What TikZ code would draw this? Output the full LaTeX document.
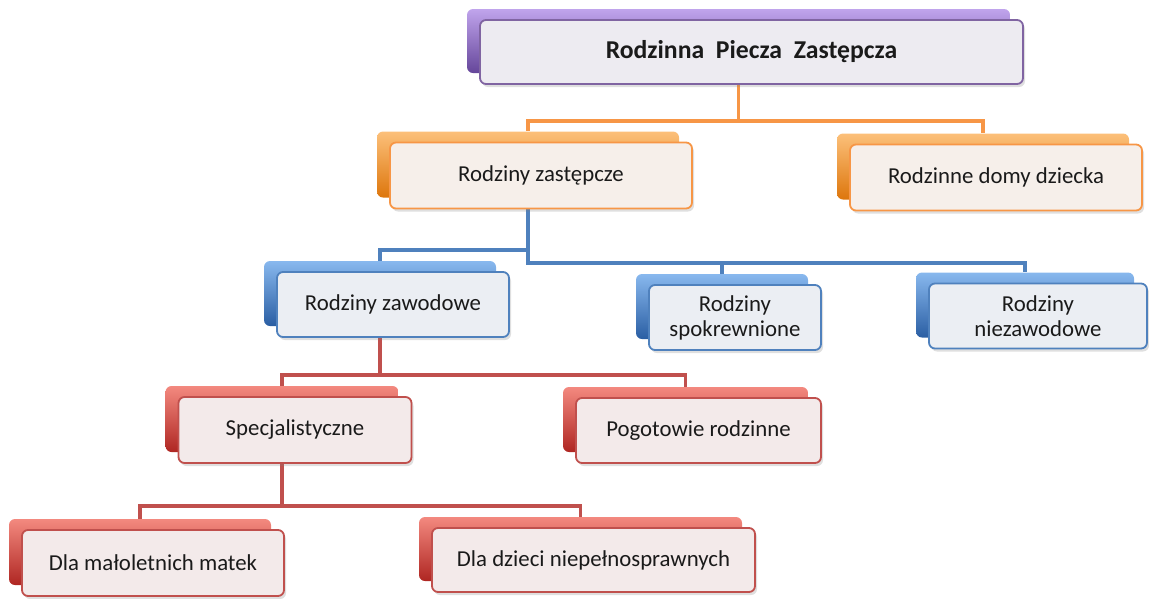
\documentclass[tikz,border=0pt]{standalone}
\usepackage{fontspec}
\setmainfont{Carlito}
\usetikzlibrary{shadows}
\pgfdeclarelayer{bg}
\pgfsetlayers{bg,main}
\definecolor{pLine}{HTML}{8064A2}
\definecolor{pTop}{HTML}{C0A4EC}
\definecolor{pBot}{HTML}{65469A}
\definecolor{pFill}{HTML}{EDEBF1}
\definecolor{oLine}{HTML}{F79646}
\definecolor{oTop}{HTML}{FCC07A}
\definecolor{oBot}{HTML}{DD760C}
\definecolor{oFill}{HTML}{F6EFEA}
\definecolor{bLine}{HTML}{4F81BD}
\definecolor{bTop}{HTML}{88B8EE}
\definecolor{bBot}{HTML}{2A5EA3}
\definecolor{bFill}{HTML}{EBEEF3}
\definecolor{rLine}{HTML}{C0504D}
\definecolor{rTop}{HTML}{F3897F}
\definecolor{rBot}{HTML}{AF2622}
\definecolor{rFill}{HTML}{F3EAEA}
\definecolor{txt}{HTML}{1A1A1A}
\tikzset{
  boxbase/.style={rounded corners=6pt, inner sep=0pt, anchor=center},
  backbox/.style={boxbase},
  frontbox/.style={boxbase, line width=1.8pt, align=center,
    font=\fontsize{22.8}{25}\selectfont, text=txt,
    drop shadow={shadow xshift=2pt, shadow yshift=-3pt, opacity=0.25}},
  backP/.style={backbox, top color=pTop, bottom color=pBot},
  backO/.style={backbox, top color=oTop, bottom color=oBot},
  backB/.style={backbox, top color=bTop, bottom color=bBot},
  backR/.style={backbox, top color=rTop, bottom color=rBot},
  frontP/.style={frontbox, draw=pLine, fill=pFill, font=\fontsize{25.7}{28}\selectfont\bfseries},
  frontO/.style={frontbox, draw=oLine, fill=oFill},
  frontB/.style={frontbox, draw=bLine, fill=bFill},
  frontR/.style={frontbox, draw=rLine, fill=rFill},
  conO/.style={draw=oLine, line width=3.4pt},
  conB/.style={draw=bLine, line width=3.4pt},
  conR/.style={draw=rLine, line width=3.4pt},
}
% #1 name, #2 cx, #3 cy (front centre), #4 width, #5 height, #6 colour letter, #7 text
\newcommand\orgbox[7]{%
  \node[back#6, minimum width=#4pt, minimum height=#5pt] (#1b) at (#2-13,#3-11) {};
  \node[front#6, minimum width=#4pt, minimum height=#5pt] (#1) at (#2,#3) {#7};
}
\begin{document}
\begin{tikzpicture}[x=1pt,y=-1pt]
\useasboundingbox (0,0) rectangle (1149,598);
\orgbox{root}{751.5}{52}{543}{64}{P}{Rodzinna\ \ Piecza\ \ Zastępcza}
\orgbox{rz}{541}{175.5}{302}{66}{O}{Rodziny zastępcze}
\orgbox{rdd}{996}{177.5}{292}{66}{O}{Rodzinne domy dziecka}
\orgbox{zaw}{393}{304.5}{232}{65}{B}{Rodziny zawodowe}
\orgbox{spo}{735}{317.5}{172}{65}{B}{Rodziny\\spokrewnione}
\orgbox{nie}{1038}{316}{218}{65}{B}{Rodziny\\niezawodowe}
\orgbox{spe}{295}{430}{233}{66}{R}{Specjalistyczne}
\orgbox{pog}{698.5}{430.5}{245}{65}{R}{Pogotowie rodzinne}
\orgbox{dma}{153}{563}{262}{66}{R}{Dla małoletnich matek}
\orgbox{ddn}{593.5}{560}{323}{64}{R}{Dla dzieci niepełnosprawnych}
\coordinate (j1) at (0,121);
\coordinate (j2) at (0,263);
\coordinate (j2l) at (0,250);
\coordinate (j3) at (0,375);
\coordinate (j4) at (0,506);
\begin{pgfonlayer}{bg}
\draw[conO] (rootb.center |- root.south) -- (rootb.center |- j1) -| (rzb.north);
\draw[conO] (rootb.center |- j1) -| (rddb.north);
\draw[conB] (rzb.center |- rz.south) -- (rzb.center |- j2) -| (nieb.north);
\draw[conB] (rzb.center |- j2) -| (spob.north);
\draw[conB] (rzb.center |- j2l) -| (zawb.north);
\draw[conR] (zawb.center |- zaw.south) -- (zawb.center |- j3) -| (speb.north);
\draw[conR] (zawb.center |- j3) -| (pogb.north);
\draw[conR] (speb.center |- spe.south) -- (speb.center |- j4) -| (dmab.north);
\draw[conR] (speb.center |- j4) -| (ddnb.north);
\end{pgfonlayer}
\end{tikzpicture}
\end{document}
